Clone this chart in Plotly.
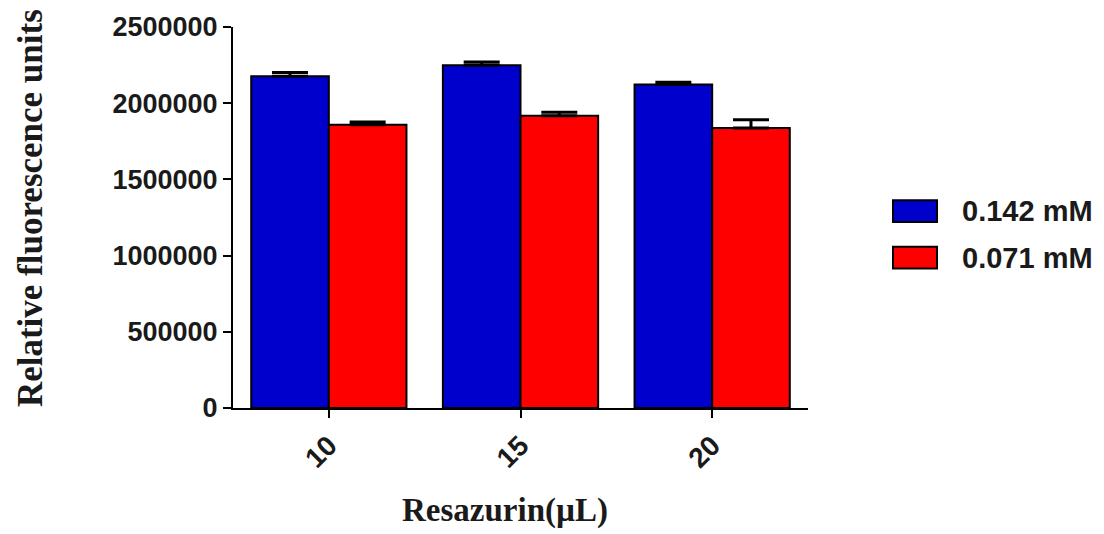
import plotly.graph_objects as go

# Resazurin volume groups (µL)
categories = ["10", "15", "20"]

# Series labels
series_names = ["0.142 mM", "0.071 mM"]

# Mean relative fluorescence and upper error (SD) for each concentration
values_0142 = [2177000, 2249000, 2123000]
errors_0142 = [25000, 22000, 14000]
values_0071 = [1859000, 1918000, 1838000]
errors_0071 = [18000, 22000, 54000]

# Y axis ticks
y_ticks = [0, 500000, 1000000, 1500000, 2000000, 2500000]
y_tick_labels = ["0", "500000", "1000000", "1500000", "2000000", "2500000"]

colors = ["#0000CC", "#FF0000"]

W, H = 1104, 534
L, R, T, B = 233, 296, 23, 126
PW, PH = W - L - R, H - T - B


def px_x(x):
    return (x - L) / PW


def px_y(y):
    return (H - B - y) / PH


sans = "Liberation Sans, Arial, sans-serif"
serif = "Liberation Serif, Times New Roman, serif"

fig = go.Figure()
for name, vals, errs, col in [
    (series_names[0], values_0142, errors_0142, colors[0]),
    (series_names[1], values_0071, errors_0071, colors[1]),
]:
    fig.add_trace(go.Bar(
        x=categories, y=vals, name=name,
        marker=dict(color=col, line=dict(color="black", width=2)),
        error_y=dict(type="data", symmetric=False, array=errs,
                     arrayminus=[0] * len(errs), color="black",
                     thickness=3, width=18),
        showlegend=False,
    ))

fig.update_layout(
    width=W, height=H,
    margin=dict(l=L, r=R, t=T, b=B, pad=0),
    paper_bgcolor="white", plot_bgcolor="white",
    barmode="group", bargap=0.19, bargroupgap=0,
    font=dict(family=sans, color="#1a1a1a"),
)
fig.update_xaxes(
    type="category", range=[-0.5, 2.5],
    showline=True, linecolor="black", linewidth=2,
    ticks="outside", ticklen=8, tickwidth=2, tickcolor="black",
    tickangle=-45, tickfont=dict(family=sans, size=28, weight="bold"),
    showgrid=False, zeroline=False,
)
fig.update_yaxes(
    range=[0, 2500000], tickvals=y_ticks, ticktext=y_tick_labels,
    showline=True, linecolor="black", linewidth=2,
    ticks="outside", ticklen=8, tickwidth=2, tickcolor="black",
    tickfont=dict(family=sans, size=27, weight="bold"),
    showgrid=False, zeroline=False,
)

# Axis titles
fig.add_annotation(
    text="<b>Relative fluorescence units</b>", textangle=-90,
    xref="paper", yref="paper", x=px_x(30), y=px_y(206),
    xanchor="center", yanchor="middle", showarrow=False,
    font=dict(family=serif, size=35, color="#1a1a1a"),
)
fig.add_annotation(
    text="<b>Resazurin(µL)</b>",
    xref="paper", yref="paper", x=px_x(505), y=px_y(512),
    xanchor="center", yanchor="middle", showarrow=False,
    font=dict(family=serif, size=33, color="#1a1a1a"),
)

# Legend: swatches with labels
for i, (name, col) in enumerate(zip(series_names, colors)):
    top = 198 + i * 47
    fig.add_shape(
        type="rect", xref="paper", yref="paper",
        x0=px_x(893), x1=px_x(937), y0=px_y(top + 22), y1=px_y(top),
        fillcolor=col, line=dict(color="black", width=2),
    )
    fig.add_annotation(
        text=f"<b>{name}</b>", xref="paper", yref="paper",
        x=px_x(960), y=px_y(top + 11), xanchor="left", yanchor="middle",
        showarrow=False, font=dict(family=sans, size=29, color="#1a1a1a"),
    )

fig.write_html("out.html")
